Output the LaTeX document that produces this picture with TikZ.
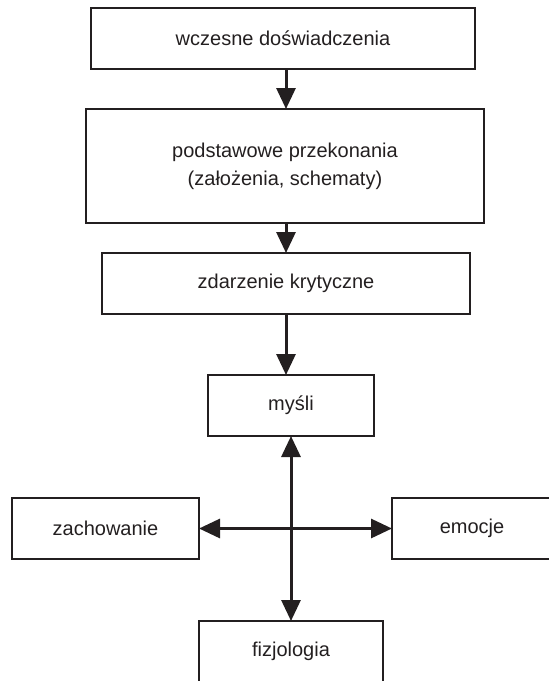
\documentclass[tikz,border=0pt]{standalone}
\usepackage{fontspec}
\setmainfont{Liberation Sans}
\usetikzlibrary{arrows.meta}
\definecolor{ink}{HTML}{231F20}

\begin{document}
\begin{tikzpicture}[x=1pt,y=-1pt,
    box/.style={draw=ink,line width=2pt,text=ink,align=center,inner sep=0,outer sep=0,minimum height=61pt,font=\boxfontsize},
    arr/.style={draw=ink,line width=3pt,-{Triangle[width=19pt,length=21pt]}},
    dblarr/.style={draw=ink,line width=3pt,{Triangle[width=19pt,length=21pt]}-{Triangle[width=19pt,length=21pt]}}]
    \pgfmathsetmacro{\pagewidth}{549}
    \pgfmathsetmacro{\pageheight}{681}
    \providecommand{\boxfontsize}{\fontsize{20}{28}\selectfont}
    \useasboundingbox (0,0) rectangle (\pagewidth,\pageheight);
    \clip (0,0) rectangle (\pagewidth,\pageheight);
    \node[box,minimum width=384pt] (wczesne) at (283,38) {wczesne doświadczenia};
    \node[box,minimum width=398pt,minimum height=114pt] (przekonania) at (285,166) {podstawowe przekonania\\(założenia, schematy)};
    \node[box,minimum width=368pt] (zdarzenie) at (286,283.5) {zdarzenie krytyczne};
    \node[box,minimum width=166pt] (mysli) at (291,405.5) {myśli};
    \node[box,minimum width=187pt] (zachowanie) at (105.5,528.5) {zachowanie};
    \node[box,minimum width=160pt] (emocje) at (472,528.5) {emocje};
    \node[box,minimum width=184pt] (fizjologia) at (291,651.5) {fizjologia};
    \draw[arr] (wczesne.south -| zdarzenie.center) -- (przekonania.north -| zdarzenie.center);
    \draw[arr] (przekonania.south -| zdarzenie.center) -- (zdarzenie.north);
    \draw[arr] (zdarzenie.south) -- (zdarzenie.south |- mysli.north);
    % cross between the four boxes
    \draw[dblarr] (mysli.south) -- (fizjologia.north);
    \draw[dblarr] (zachowanie.east) -- (emocje.west);
\end{tikzpicture}
\end{document}
